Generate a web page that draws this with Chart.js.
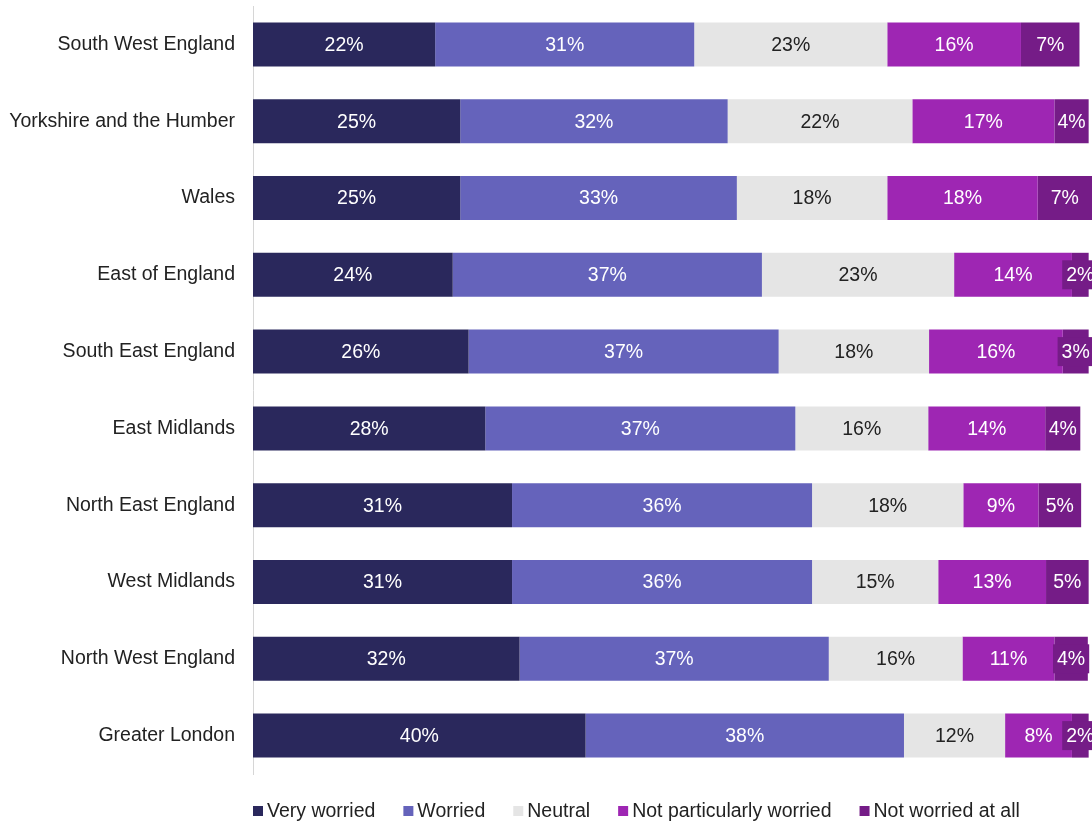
<!DOCTYPE html>
<html>
<head>
<meta charset="utf-8">
<script src="https://cdn.jsdelivr.net/npm/chart.js@4.4.6/dist/chart.umd.min.js"></script>
<style>
  html, body { margin: 0; padding: 0; background: #fff; }
</style>
</head>
<body>
<canvas id="worry-by-region" width="1092" height="823"></canvas>
<script>
const regions = [
  'South West England',
  'Yorkshire and the Humber',
  'Wales',
  'East of England',
  'South East England',
  'East Midlands',
  'North East England',
  'West Midlands',
  'North West England',
  'Greater London'
]

const veryWorried = [21.8, 24.8, 24.8, 23.9, 25.8, 27.8, 31.0, 31.0, 31.9, 39.8]
const worried = [31.0, 32.0, 33.1, 37.0, 37.1, 37.1, 35.9, 35.9, 37.0, 38.1]
const neutral = [23.1, 22.1, 18.0, 23.0, 18.0, 15.9, 18.1, 15.1, 16.0, 12.1]
const notParticularly = [16.0, 17.0, 18.0, 14.1, 16.0, 14.0, 9.0, 12.9, 11.0, 8.0]
const notAtAll = [7.0, 4.1, 6.6, 2.0, 3.1, 4.2, 5.1, 5.1, 4.0, 2.0]

const seriesNames = ['Very worried', 'Worried', 'Neutral', 'Not particularly worried', 'Not worried at all']
const seriesColors = ['#2a285c', '#6563bb', '#e5e5e5', '#9e26b3', '#751c87']
const labelColors = ['#ffffff', '#ffffff', '#222222', '#ffffff', '#ffffff']

const FONT = '"Liberation Sans", Arial, sans-serif'
const FONT_SIZE = 19.5

// percentage labels centred in each segment; small ones get a box in the segment colour
const segmentLabels = {
  id: 'segmentLabels',
  afterDatasetsDraw(chart) {
    const { ctx, chartArea } = chart
    ctx.save()
    ctx.font = FONT_SIZE + 'px ' + FONT
    ctx.textAlign = 'center'
    ctx.textBaseline = 'middle'
    chart.data.datasets.forEach((ds, i) => {
      const meta = chart.getDatasetMeta(i)
      meta.data.forEach((bar, j) => {
        const text = Math.round(ds.data[j]) + '%'
        const left = Math.min(bar.x, bar.base)
        const right = Math.min(Math.max(bar.x, bar.base), chartArea.right)
        const cx = (left + right) / 2
        const tw = ctx.measureText(text).width
        if (tw + 6 > right - left) {
          ctx.fillStyle = ds.backgroundColor
          ctx.fillRect(cx - tw / 2 - 4, bar.y - 14.5, tw + 8, 29)
        }
        ctx.fillStyle = labelColors[i]
        ctx.fillText(text, cx, bar.y + 1)
      })
    })
    ctx.restore()
  }
}

// legend laid out from the left edge of the plot, like the original
const bottomLegend = {
  id: 'bottomLegend',
  afterDraw(chart) {
    const { ctx, chartArea } = chart
    const y = chart.height - 12
    let x = chartArea.left
    ctx.save()
    ctx.font = FONT_SIZE + 'px ' + FONT
    ctx.textAlign = 'left'
    ctx.textBaseline = 'middle'
    chart.data.datasets.forEach((ds) => {
      ctx.fillStyle = ds.backgroundColor
      ctx.fillRect(x, y - 5, 10, 10)
      ctx.fillStyle = '#222222'
      ctx.fillText(ds.label, x + 14, y + 1)
      x += 14 + ctx.measureText(ds.label).width + 28
    })
    ctx.restore()
  }
}

const values = [veryWorried, worried, neutral, notParticularly, notAtAll]

new Chart(document.getElementById('worry-by-region'), {
  type: 'bar',
  data: {
    labels: regions,
    datasets: values.map((data, i) => ({
      label: seriesNames[i],
      data: data,
      backgroundColor: seriesColors[i],
      borderWidth: 0,
      categoryPercentage: 1,
      barPercentage: 0.573
    }))
  },
  options: {
    indexAxis: 'y',
    responsive: false,
    animation: false,
    layout: { padding: { top: 6, bottom: 49, left: 0, right: 0 } },
    plugins: {
      legend: { display: false },
      tooltip: { enabled: false }
    },
    scales: {
      x: {
        stacked: true,
        display: false,
        min: 0,
        max: 100.4
      },
      y: {
        stacked: true,
        grid: { display: false, drawTicks: false },
        border: { display: true, color: '#d6d6d6', width: 1 },
        ticks: {
          padding: 18,
          color: '#222222',
          font: { family: FONT, size: FONT_SIZE }
        },
        afterFit(scale) {
          scale.width = 253
          scale.paddingTop = 0
          scale.paddingBottom = 0
        }
      }
    }
  },
  plugins: [segmentLabels, bottomLegend]
})
</script>
</body>
</html>
